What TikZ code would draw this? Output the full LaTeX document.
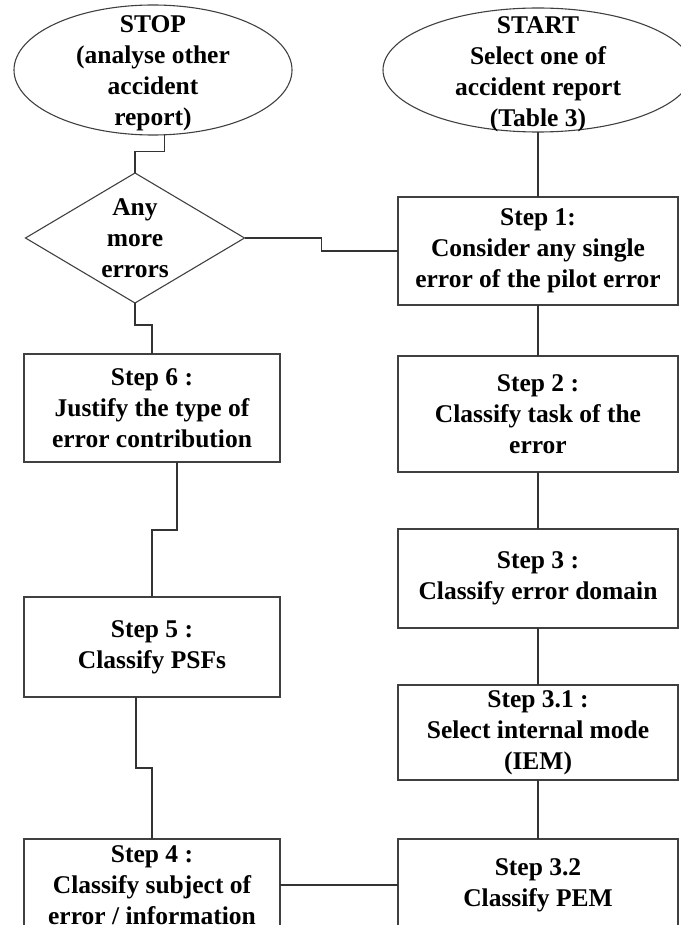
\documentclass[tikz,border=0pt]{standalone}
\usepackage{fontspec}
\setmainfont{Liberation Serif}
\usetikzlibrary{positioning, shapes.geometric}
\tikzset{
  stepbox/.style={draw=black!75, line width=1.3pt, align=center, inner sep=1pt, outer sep=0pt, minimum width=280pt},
  endoval/.style={ellipse, draw=black!75, line width=1.1pt, inner sep=0pt, outer sep=0pt},
  choice/.style={diamond, draw=black!75, line width=1.1pt, inner sep=0pt, outer sep=0pt, minimum width=219pt, minimum height=130pt},
  midtext/.style={align=center, inner sep=0pt},
  link/.style={draw=black!80, line width=1.1pt}
}

\begin{document}
\begin{tikzpicture}[x=1pt, y=-1pt, font=\bfseries\fontsize{25.5}{31}\selectfont]
  \useasboundingbox (0,0) rectangle (680,925);

  \node [endoval, minimum width=310pt, minimum height=124pt,
    label={[midtext, yshift=-4pt]center:START\\Select one of\\accident report\\(Table 3)}] (start) at (538,70) {};
  \node [stepbox, minimum height=108pt, below=65pt of start] (s1) {Step 1:\\Consider any single\\error of the pilot error};
  \node [stepbox, minimum height=116pt, below=51pt of s1] (s2) {Step 2 :\\Classify task of the\\error};
  \node [stepbox, minimum height=99pt, below=57pt of s2] (s3) {Step 3 :\\Classify error domain};
  \node [stepbox, minimum height=95pt, below=57pt of s3] (s31) {Step 3.1 :\\Select internal mode\\(IEM)};
  \node [stepbox, minimum height=92pt, below=59pt of s31] (s32) {Step 3.2\\Classify PEM};

  \node [endoval, minimum width=278pt, minimum height=130pt,
    label={[midtext, yshift=-3pt]center:STOP\\(analyse other\\accident\\report)}] (stop) at (153,70) {};
  \node [choice, below=38pt of stop, xshift=-18pt, label={[midtext]center:Any\\more\\errors}] (q) {};
  \node [stepbox, minimum width=256pt, minimum height=108pt, below=51pt of q, xshift=17pt] (s6) {Step 6 :\\Justify the type of\\error contribution};
  \node [stepbox, minimum width=256pt, minimum height=100pt, below=135pt of s6] (s5) {Step 5 :\\Classify PSFs};
  \node [stepbox, minimum width=256pt, minimum height=92pt, below=142pt of s5] (s4) {Step 4 :\\Classify subject of\\error / information};

  \draw [link] (start) -- (s1);
  \draw [link] (s1) -- (s2);
  \draw [link] (s2) -- (s3);
  \draw [link] (s3) -- (s31);
  \draw [link] (s31) -- (s32);
  \draw [link] (s4.east) -- (s4.east -| s32.west);

  \draw [link] (stop.-80) -- ++(0,17) -| (q.north);
  \draw [link] (q.east) -- ++(77,0) |- (s1.west);
  \draw [link] (q.south) -- ++(0,22) -| (s6.north);
  \draw [link] ([xshift=25pt]s6.south) -- ++(0,68) -| (s5.north);
  \draw [link] ([xshift=-16pt]s5.south) -- ++(0,71) -| (s4.north);
\end{tikzpicture}
\end{document}
